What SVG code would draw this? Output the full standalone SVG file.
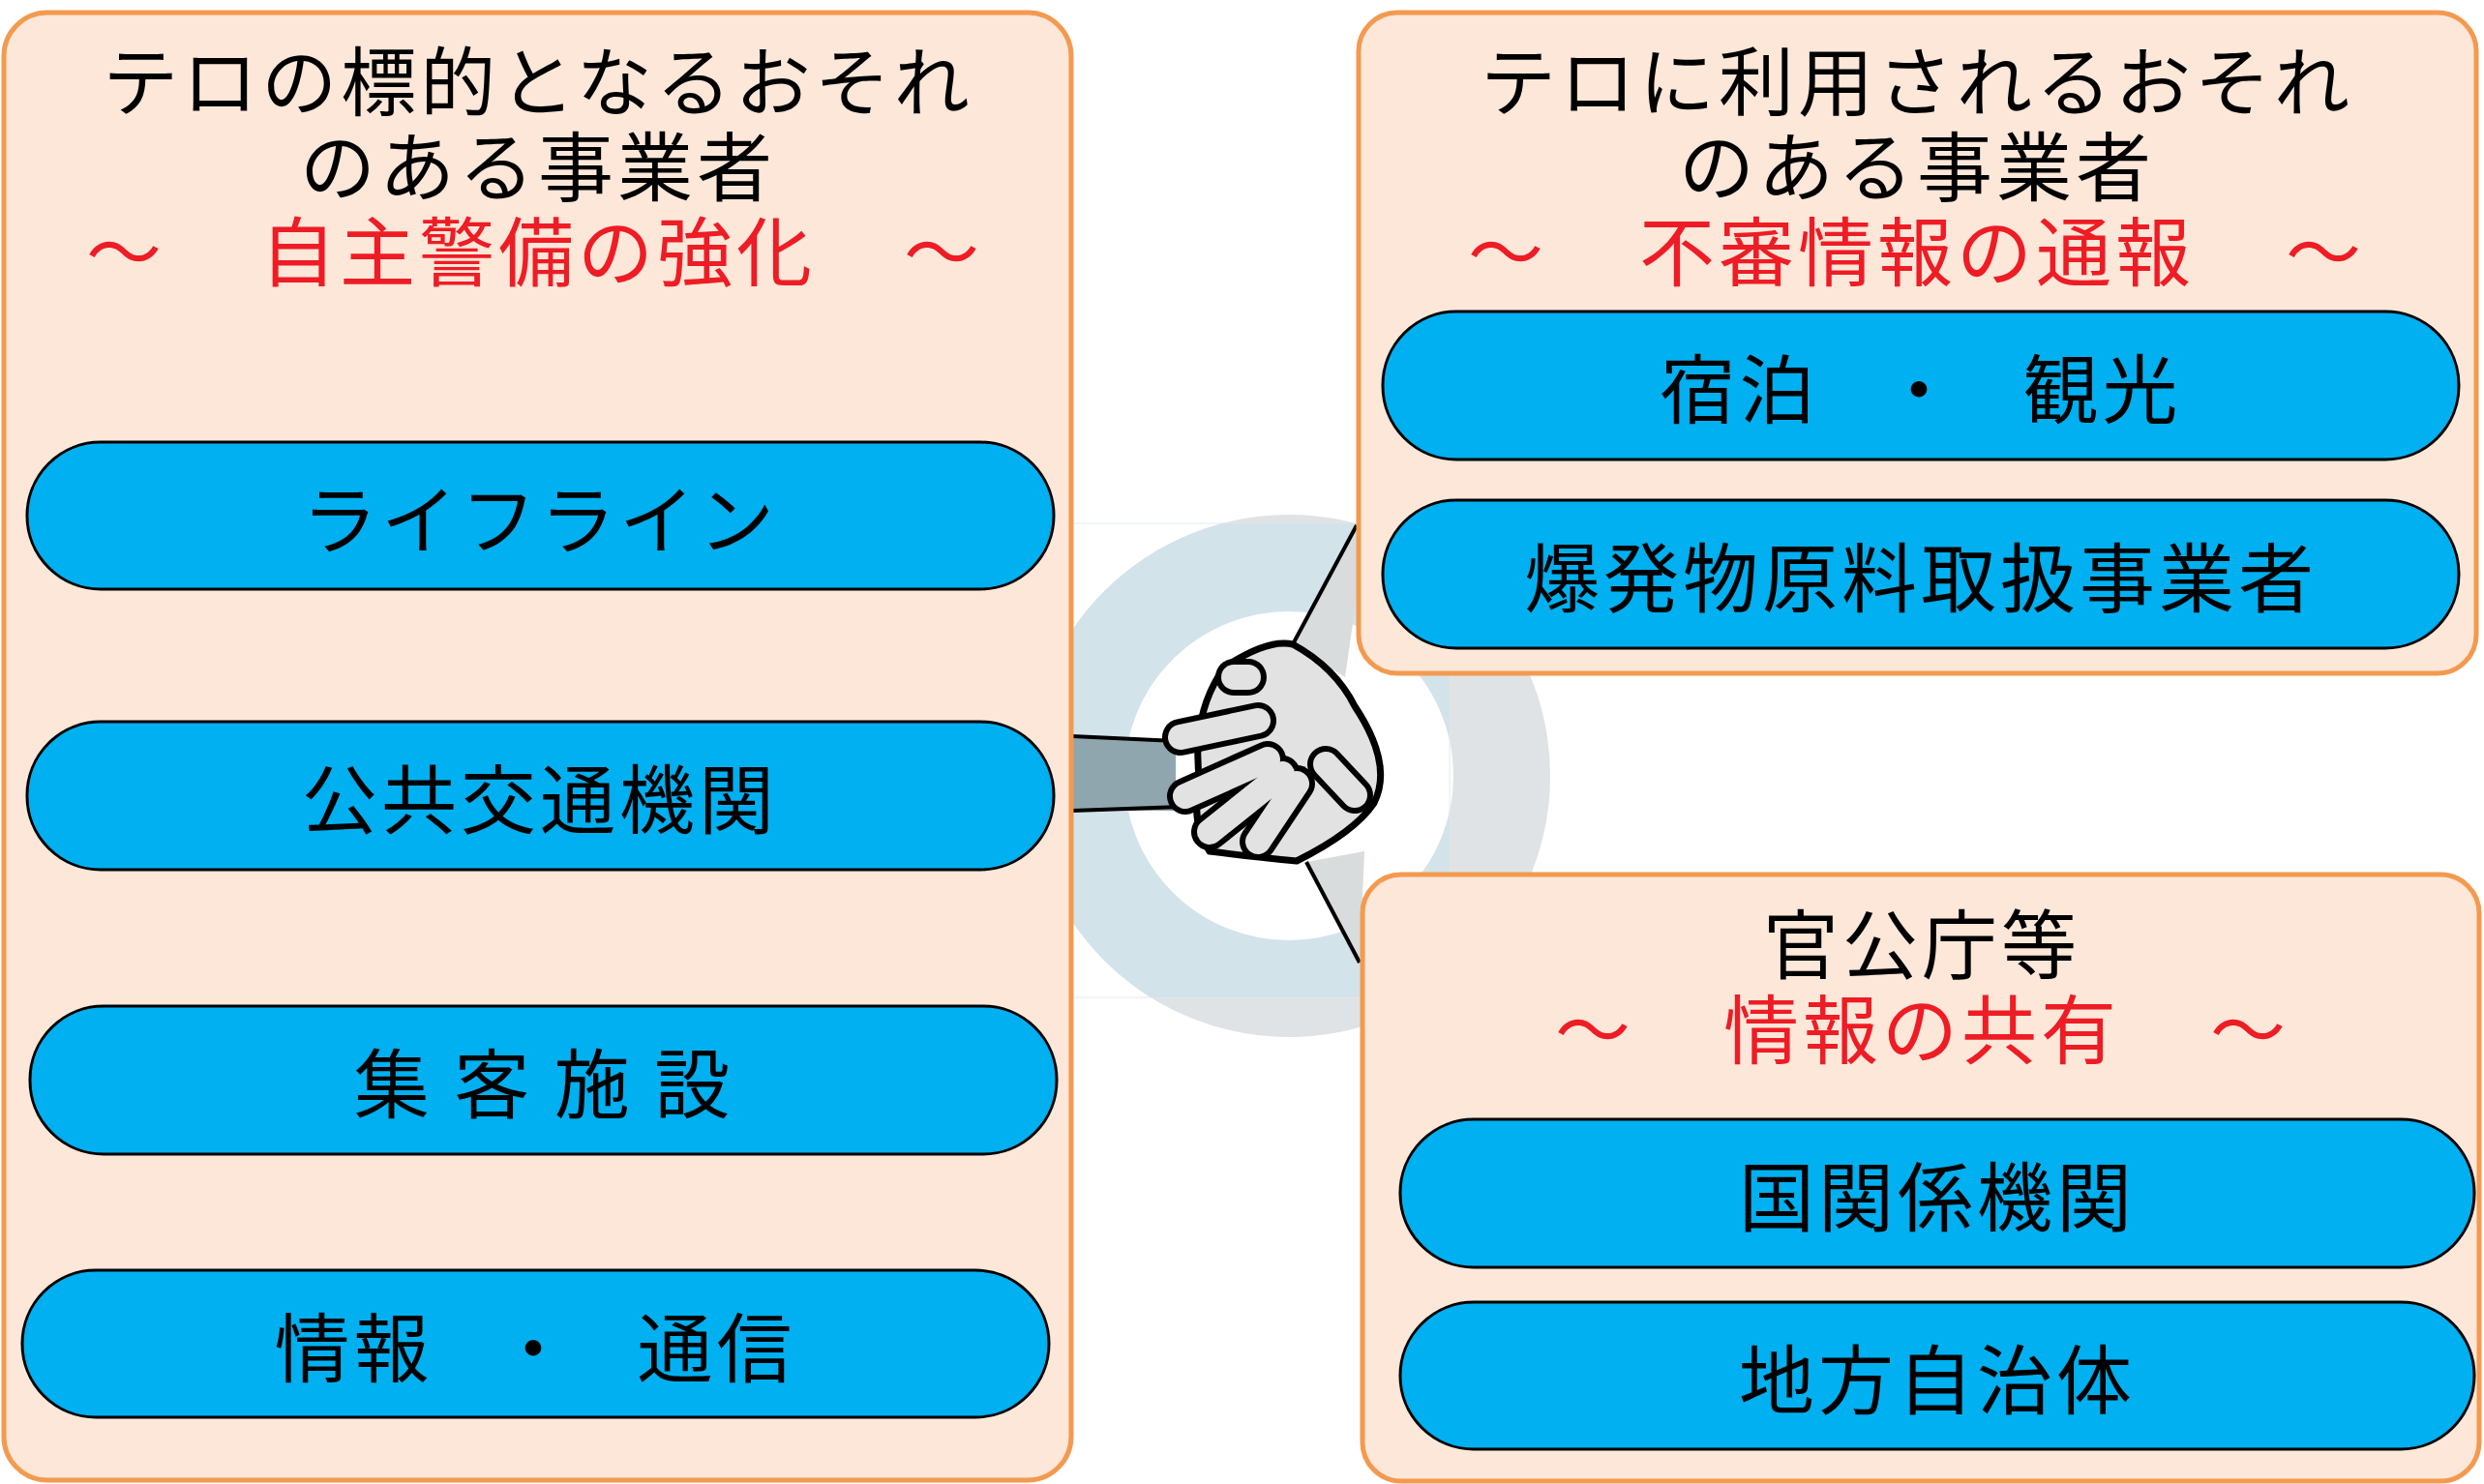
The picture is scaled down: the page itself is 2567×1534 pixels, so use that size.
<svg xmlns="http://www.w3.org/2000/svg" width="2567" height="1534" viewBox="0 0 2567 1534">
<style>
.panel{fill:#fce7d9;stroke:#f39a4f;stroke-width:5}
.pill{fill:#00b0f0;stroke:#000;stroke-width:3}
text{font-family:"Noto Sans CJK JP","Noto Sans",sans-serif;font-size:78px;text-anchor:middle;letter-spacing:4px}
.t{fill:#000}
.r{fill:#ee1c25}
.p{dominant-baseline:central;fill:#000}
</style>
<defs><clipPath id="rc"><rect x="1108" y="541" width="390" height="490"/></clipPath></defs>
<rect width="2567" height="1534" fill="#fff"/>
<g id="hands">
<circle cx="1332" cy="802" r="220" fill="none" stroke="#dfe3e5" stroke-width="100"/>
<rect x="1108" y="541" width="390" height="490" fill="#fff" stroke="#e6e9ea" stroke-width="1"/>
<circle cx="1332" cy="802" r="220" fill="none" stroke="#d3e3ea" stroke-width="100" clip-path="url(#rc)"/>
<polygon points="1108,761 1215,766 1215,838 1108,838" fill="#8fa6ae"/>
<polygon points="1402,543 1336,666 1390,700 1410,560" fill="#d9dcdc"/>
<polygon points="1350,891 1405,995 1410,880" fill="#d9dcdc"/>
<g stroke="#000" stroke-width="4" fill="none">
<line x1="1108" y1="761" x2="1215" y2="766"/><line x1="1108" y1="838" x2="1220" y2="834"/>
<line x1="1402" y1="543" x2="1336" y2="666"/><line x1="1350" y1="891" x2="1405" y2="995"/>
</g>
<path d="M1265,690 Q1310,660 1336,666 Q1380,690 1400,730 Q1440,790 1420,830 Q1400,860 1340,890 Q1290,885 1250,880 Q1230,850 1240,810 Q1230,740 1265,690Z" fill="#e2e2e2" stroke="#000" stroke-width="7"/>
<g stroke-linecap="round" fill="none">
<g stroke="#000" stroke-width="38">
<line x1="1300" y1="745" x2="1220" y2="762"/><line x1="1310" y1="785" x2="1225" y2="823"/>
<line x1="1325" y1="800" x2="1250" y2="860"/><line x1="1340" y1="810" x2="1300" y2="870"/>
<line x1="1370" y1="790" x2="1400" y2="822"/><line x1="1290" y1="700" x2="1275" y2="700"/>
</g>
<g stroke="#e2e2e2" stroke-width="26">
<line x1="1300" y1="745" x2="1220" y2="762"/><line x1="1310" y1="785" x2="1225" y2="823"/>
<line x1="1325" y1="800" x2="1250" y2="860"/><line x1="1340" y1="810" x2="1300" y2="870"/>
<line x1="1370" y1="790" x2="1400" y2="822"/><line x1="1290" y1="700" x2="1275" y2="700"/>
</g>
</g>
</g>
<g id="left">
<rect class="panel" x="4" y="13" width="1103" height="1517" rx="45"/>
<text class="t" x="556" y="114">テロの標的となるおそれ</text>
<text class="t" x="556" y="202">のある事業者</text>
<text class="r" x="130" y="290">～</text>
<text class="r" x="556" y="290">自主警備の強化</text>
<text class="r" x="975" y="290">～</text>
</g>
<g id="n1"><rect class="pill" x="28" y="457" width="1061" height="152" rx="76"/><text class="p" x="558" y="533" letter-spacing="10">ライフライン</text></g>
<g id="n2"><rect class="pill" x="28" y="746" width="1061" height="153" rx="76"/><text class="p" x="558" y="822">公共交通機関</text></g>
<g id="n3"><rect class="pill" x="31" y="1040" width="1061" height="153" rx="76"/><text class="p" x="562" y="1116" letter-spacing="10">集 客 施 設</text></g>
<g id="n4"><rect class="pill" x="23" y="1313" width="1061" height="152" rx="76"/><text class="p" x="553" y="1389" xml:space="preserve">情報   ・   通信</text></g>
<g id="rtop">
<rect class="panel" x="1404" y="13" width="1155" height="683" rx="40"/>
<text class="t" x="1981" y="114">テロに利用されるおそれ</text>
<text class="t" x="1981" y="202">のある事業者</text>
<text class="r" x="1558" y="290">～</text>
<text class="r" x="1981" y="290">不審情報の通報</text>
<text class="r" x="2403" y="290">～</text>
</g>
<g id="n5"><rect class="pill" x="1429" y="322" width="1112" height="153" rx="76"/><text class="p" x="1985" y="398" xml:space="preserve">宿泊   ・   観光</text></g>
<g id="n6"><rect class="pill" x="1429" y="517" width="1112" height="153" rx="76"/><text class="p" x="1985" y="593">爆発物原料取扱事業者</text></g>
<g id="rbot">
<rect class="panel" x="1408" y="904" width="1154" height="627" rx="40"/>
<text class="t" x="1986" y="1006">官公庁等</text>
<text class="r" x="1648" y="1094">～</text>
<text class="r" x="1986" y="1094">情報の共有</text>
<text class="r" x="2325" y="1094">～</text>
</g>
<g id="n7"><rect class="pill" x="1447" y="1157" width="1110" height="153" rx="76"/><text class="p" x="2002" y="1233">国関係機関</text></g>
<g id="n8"><rect class="pill" x="1447" y="1346" width="1110" height="152" rx="76"/><text class="p" x="2002" y="1422">地方自治体</text></g>
<g id="connectors"/>
</svg>
